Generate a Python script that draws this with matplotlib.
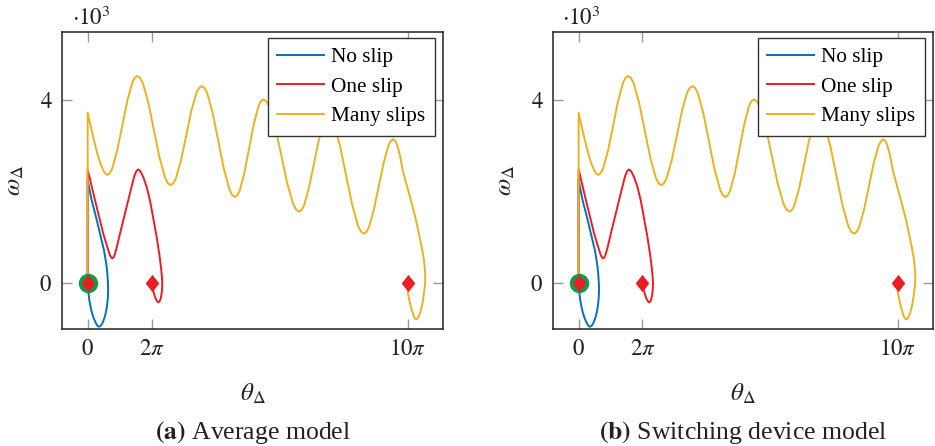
"""
plot.py
Phase portraits (theta_delta vs omega_delta) for three fault cases,
drawn twice: (a) average model, (b) switching device model.
Saves out.png (935x446 px).
"""

import matplotlib
matplotlib.use("Agg")
import matplotlib.pyplot as plt
import numpy as np

plt.rcParams["font.family"] = ["Liberation Serif", "DejaVu Serif"]
plt.rcParams["mathtext.fontset"] = "stix"

# Data: theta in rad, omega in units of 10^3.
NO_SLIP_THETA = [0, 0, 0.20, 0.39, 0.81, 1.21, 1.60, 1.75, 1.86, 1.94, 1.99,
                 2.01, 1.98, 1.92, 1.84, 1.72, 1.58, 1.43, 1.28, 1.14, 1.00,
                 0.85, 0.70, 0.55, 0.40, 0.27, 0.16, 0.07, 0]
NO_SLIP_OMEGA = [0, 2.25, 2.02, 1.81, 1.45, 1.08, 0.72, 0.52, 0.36, 0.18, 0.00,
                 -0.15, -0.32, -0.45, -0.58, -0.70, -0.80, -0.88, -0.93, -0.95, -0.94,
                 -0.89, -0.82, -0.74, -0.63, -0.50, -0.37, -0.20, 0]

ONE_SLIP_THETA = [0, 0, 0.72, 1.53, 2.02, 2.20, 2.32, 2.42, 2.53, 2.65, 2.85,
                  3.17, 3.98, 4.47, 4.60, 4.75, 4.87, 4.97, 5.10, 5.25, 5.46,
                  5.79, 6.11, 6.77, 7.05, 7.20, 7.28, 7.32, 7.30, 7.24, 7.16,
                  7.05, 6.93, 6.80, 6.66, 6.50, 6.38, 6.28]
ONE_SLIP_OMEGA = [0, 2.48, 1.81, 1.08, 0.72, 0.60, 0.56, 0.54, 0.56, 0.62, 0.78,
                  1.08, 1.81, 2.25, 2.35, 2.43, 2.47, 2.48, 2.46, 2.41, 2.31,
                  2.10, 1.81, 1.01, 0.60, 0.33, 0.15, 0.00, -0.13, -0.25, -0.34,
                  -0.40, -0.42, -0.39, -0.33, -0.22, -0.12, 0.00]

MANY_SLIPS_THETA = [0, 0, 0.25, 0.50, 0.75, 1.00, 1.25, 1.50, 1.70, 1.92,
                    2.17, 2.41, 2.90, 3.40, 3.89, 4.38, 4.62, 4.87,
                    5.14, 5.42, 5.96, 6.51, 7.05, 7.60, 7.87, 8.14,
                    8.39, 8.65, 9.16, 9.67, 10.17, 10.68, 10.94, 11.19,
                    11.46, 11.74, 12.28, 12.83, 13.37, 13.92, 14.19, 14.46,
                    14.69, 14.92, 15.38, 15.85, 16.31, 16.77, 17.00, 17.23,
                    17.53, 17.82, 18.41, 19.00, 19.59, 20.18, 20.47, 20.77,
                    21.01, 21.24, 21.71, 22.19, 22.66, 23.13, 23.36, 23.60,
                    23.89, 24.19, 24.77, 25.36, 25.95, 26.53, 26.83, 27.12,
                    27.36, 27.60, 28.08, 28.56, 29.03, 29.51, 29.75, 29.99,
                    30.20, 30.38, 30.65, 30.91, 31.27, 31.63, 32.22, 32.78,
                    32.95, 33.04, 33.11, 33.13, 33.10, 33.00, 32.90, 32.78,
                    32.62, 32.45, 32.32, 32.22, 32.10, 31.96, 31.80, 31.63,
                    31.50, 31.40]
MANY_SLIPS_OMEGA = [0, 3.72, 3.47, 3.23, 3.00, 2.79, 2.61, 2.48, 2.40, 2.36,
                    2.40, 2.50, 2.90, 3.44, 3.98, 4.38, 4.48, 4.52,
                    4.48, 4.36, 3.93, 3.33, 2.74, 2.30, 2.18, 2.14,
                    2.18, 2.28, 2.68, 3.22, 3.76, 4.16, 4.26, 4.30,
                    4.26, 4.14, 3.70, 3.09, 2.49, 2.04, 1.92, 1.88,
                    1.92, 2.02, 2.41, 2.95, 3.48, 3.87, 3.97, 4.01,
                    3.97, 3.85, 3.40, 2.79, 2.17, 1.72, 1.60, 1.56,
                    1.60, 1.70, 2.08, 2.59, 3.10, 3.48, 3.58, 3.62,
                    3.58, 3.45, 2.99, 2.35, 1.72, 1.25, 1.12, 1.08,
                    1.12, 1.22, 1.60, 2.11, 2.61, 3.00, 3.10, 3.14,
                    3.10, 3.01, 2.78, 2.47, 2.17, 1.88, 1.38, 0.79,
                    0.58, 0.43, 0.25, 0.10, -0.05, -0.22, -0.38, -0.52,
                    -0.65, -0.74, -0.78, -0.79, -0.77, -0.70, -0.58, -0.44,
                    -0.30, -0.19]

START_POINT = (0.0, 0.0)
EQUILIBRIA_THETA = [0, 2 * np.pi, 10 * np.pi]
EQUILIBRIA_OMEGA = [0, 0, 0]

X_TICKS = [0, 2 * np.pi, 10 * np.pi]
X_TICK_LABELS = [r"$0$", r"$2\pi$", r"$10\pi$"]
Y_TICKS = [0, 4]
Y_TICK_LABELS = [r"$0$", r"$4$"]

CAPTIONS = [r"$\mathbf{(a)}$ Average model",
            r"$\mathbf{(b)}$ Switching device model"]

BLUE = "#0072bd"
RED = "#ed1c24"
ORANGE = "#edb120"
GREEN = "#139a4b"
TICK_GRAY = "#9a9a9a"
TEXT = "#222222"

DIAMOND = [(0, 1), (0.78, 0), (0, -1), (-0.78, 0)]

W, H = 935, 446


def draw_panel(fig, rect, caption):
    ax = fig.add_axes(rect)

    ax.plot(NO_SLIP_THETA, NO_SLIP_OMEGA, color=BLUE, lw=1.4,
            solid_joinstyle="round", label="No slip")
    ax.plot(ONE_SLIP_THETA, ONE_SLIP_OMEGA, color=RED, lw=1.4,
            solid_joinstyle="round", label="One slip")
    ax.plot(MANY_SLIPS_THETA, MANY_SLIPS_OMEGA, color=ORANGE, lw=1.4,
            solid_joinstyle="round", label="Many slips")

    ax.plot(*START_POINT, "o", color=GREEN, ms=14, mew=0, zorder=5)
    ax.plot(EQUILIBRIA_THETA, EQUILIBRIA_OMEGA, ls="none", marker=DIAMOND,
            color=RED, ms=12.5, mew=0, zorder=6)

    ax.set_xlim(-2.52, 34.87)
    ax.set_ylim(-1.0, 5.48)
    ax.set_xticks(X_TICKS)
    ax.set_xticklabels(X_TICK_LABELS)
    ax.set_yticks(Y_TICKS)
    ax.set_yticklabels(Y_TICK_LABELS)
    ax.tick_params(direction="in", length=7.5, width=1, color=TICK_GRAY,
                   top=True, right=True, labelsize=16.5, labelcolor=TEXT,
                   pad=7)
    for sp in ax.spines.values():
        sp.set_linewidth(1.1)
        sp.set_color("#222222")

    ax.set_xlabel(r"$\theta_\Delta$", fontsize=18, color=TEXT, labelpad=16)
    ax.set_ylabel(r"$\omega_\Delta$", fontsize=18, color=TEXT, labelpad=10)
    ax.text(0.025, 1.008, r"$\cdot 10^3$", transform=ax.transAxes,
            fontsize=16.5, color=TEXT, ha="left", va="bottom")

    leg = ax.legend(loc="upper right", bbox_to_anchor=(0.979, 0.980),
                    borderaxespad=0, fontsize=15.3, fancybox=False,
                    framealpha=1, edgecolor="#333333", handlelength=2.2,
                    handletextpad=0.35, labelspacing=0.45, borderpad=0.45)
    leg.get_frame().set_linewidth(1.0)

    x_mid = rect[0] + rect[2] / 2
    fig.text(x_mid, 1 - 433 / H, caption, fontsize=18.5, color=TEXT,
             ha="center", va="center")
    return ax


fig = plt.figure(figsize=(W / 100, H / 100), dpi=100)
draw_panel(fig, [62 / W, 1 - 329 / H, 381 / W, 297 / H], CAPTIONS[0])
draw_panel(fig, [553 / W, 1 - 329 / H, 380 / W, 297 / H], CAPTIONS[1])

fig.savefig("out.png", dpi=100)
